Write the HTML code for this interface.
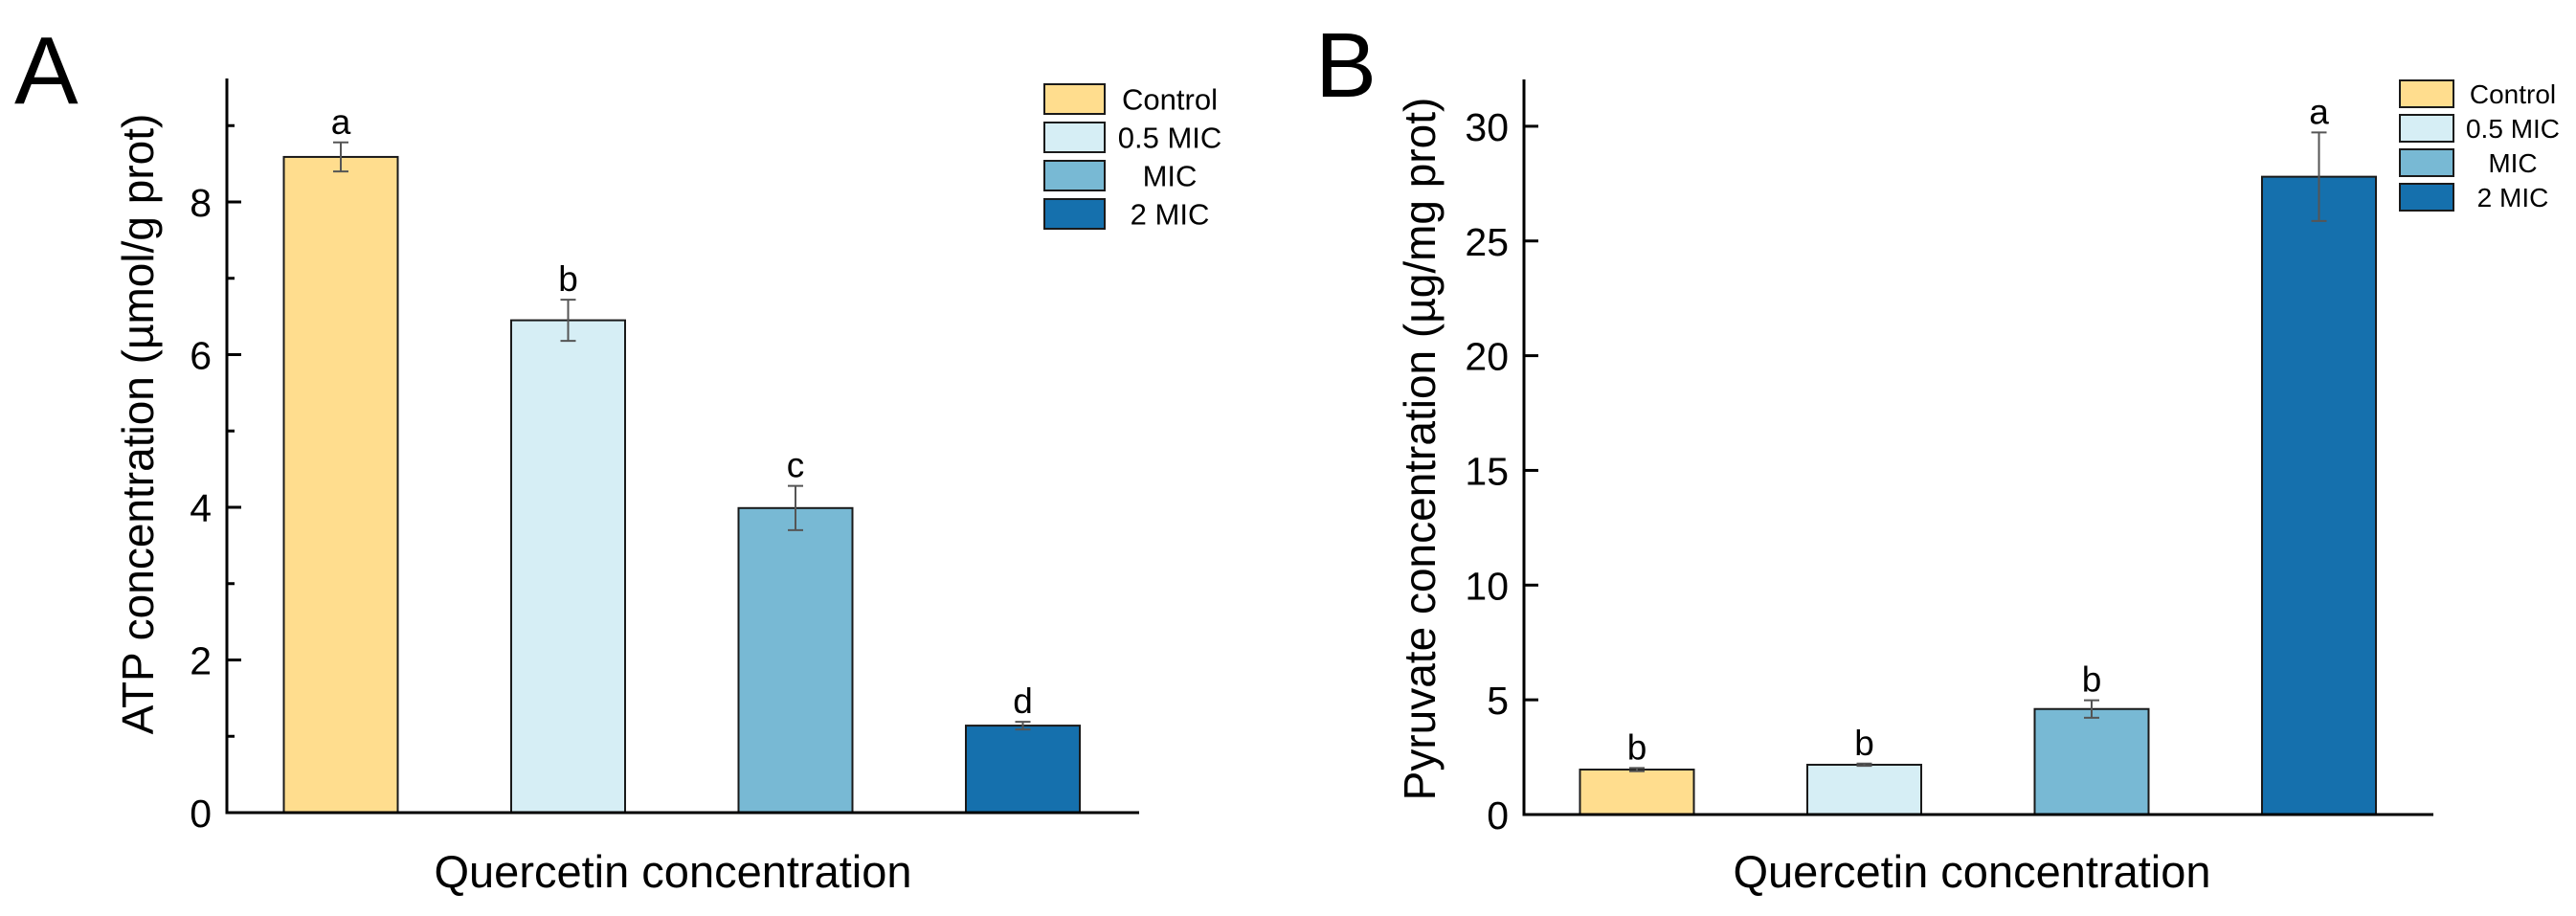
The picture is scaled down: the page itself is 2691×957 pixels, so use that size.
<!DOCTYPE html>
<html><head><meta charset="utf-8">
<style>
html,body{margin:0;padding:0;background:#fff;}
svg{display:block;font-family:"Liberation Sans",Arial,sans-serif;}
</style></head>
<body>
<svg id="fig" width="2691" height="957" viewBox="0 0 2691 957" xmlns="http://www.w3.org/2000/svg">
<text x="15" y="108" font-size="100">A</text>
<text x="1374" y="101" font-size="96">B</text>
<g id="chartA"></g>
<g id="chartB"></g>
</svg>
<script>
const categories = ["Control", "0.5 MIC", "MIC", "2 MIC"];
const colors = ["#FFDD8E", "#D6EEF5", "#78B9D4", "#1570AD"];
const atpValues = [8.59, 6.45, 3.99, 1.14];
const atpErrors = [0.19, 0.27, 0.29, 0.05];
const atpLetters = ["a", "b", "c", "d"];
const atpTicks = [0, 2, 4, 6, 8];
const atpMinorTicks = [1, 3, 5, 7, 9];
const pyrValues = [1.96, 2.17, 4.6, 27.8];
const pyrErrors = [0.07, 0.05, 0.38, 1.93];
const pyrLetters = ["b", "b", "b", "a"];
const pyrTicks = [0, 5, 10, 15, 20, 25, 30];

const NS = "http://www.w3.org/2000/svg";
function mk(parent, tag, attrs, text) {
  const e = document.createElementNS(NS, tag);
  for (const k in attrs) e.setAttribute(k, attrs[k]);
  if (text !== undefined) e.textContent = text;
  parent.appendChild(e);
  return e;
}

function drawChart(g, cfg) {
  const y = v => cfg.y0 - v * cfg.ppu;
  const x = i => cfg.firstCenter + i * cfg.pitch;
  cfg.values.forEach((v, i) => {
    const r = mk(g, "rect", {x: x(i) - cfg.bw / 2, y: y(v), width: cfg.bw, height: cfg.y0 - y(v), fill: colors[i], stroke: "#1a1a1a", "stroke-width": 2});
    
    
    const top = y(v + cfg.errors[i]), bot = y(v - cfg.errors[i]);
    const eb = mk(g, "path", {d: `M${x(i)},${top}V${bot}M${x(i) - 8},${top}H${x(i) + 8}M${x(i) - 8},${bot}H${x(i) + 8}`, stroke: "#555", "stroke-width": 2, fill: "none"});
    
    
    const t = mk(g, "text", {x: x(i), y: top - 9, "font-size": 37, "text-anchor": "middle"}, cfg.letters[i]);
    
    
  });
  const ax = mk(g, "path", {d: `M${cfg.ax},${cfg.top}V${cfg.y0}H${cfg.xEnd}`, stroke: "#000", "stroke-width": 3, fill: "none"});
  
  
  cfg.ticks.forEach(v => {
    const tk = mk(g, "line", {x1: cfg.ax, x2: cfg.ax + 15, y1: y(v), y2: y(v), stroke: "#000", "stroke-width": 3});
    
    
    const tl = mk(g, "text", {x: cfg.ax - 16, y: y(v) + 15, "font-size": 41, "text-anchor": "end"}, String(v));
    
    
  });
  (cfg.minor || []).forEach(v => {
    const tk = mk(g, "line", {x1: cfg.ax, x2: cfg.ax + 8, y1: y(v), y2: y(v), stroke: "#000", "stroke-width": 3});
    
    
  });
  const yl = mk(g, "text", {x: 0, y: 0, "font-size": 46, "text-anchor": "middle", transform: `translate(${cfg.ylx},${cfg.yly}) rotate(-90)`}, cfg.ylabel);
  
  
  const xl = mk(g, "text", {x: cfg.xlx, y: 927, "font-size": 47, "text-anchor": "middle"}, "Quercetin concentration");
  
  
  categories.forEach((c, i) => {
    const ly = cfg.legY + i * cfg.legPitch;
    const lb = mk(g, "rect", {x: cfg.legX, y: ly, width: cfg.legW, height: cfg.legH, fill: colors[i], stroke: "#1a1a1a", "stroke-width": 2});
    
    
    const lt = mk(g, "text", {x: cfg.legTX, y: ly + cfg.legH / 2 + cfg.legFS * 0.36, "font-size": cfg.legFS, "text-anchor": "middle"}, c);
    
    
  });
}

drawChart(document.getElementById("chartA"), {
  values: atpValues, errors: atpErrors, letters: atpLetters, ticks: atpTicks, minor: atpMinorTicks,
  y0: 849, ppu: 79.75, top: 82, ax: 237, xEnd: 1190, firstCenter: 356, pitch: 237.5, bw: 119,
  ylabel: "ATP concentration (µmol/g prot)", ylx: 160, yly: 443, xlx: 703,
  legX: 1091, legY: 88, legW: 63, legH: 31, legPitch: 40, legTX: 1222, legFS: 31
});
drawChart(document.getElementById("chartB"), {
  values: pyrValues, errors: pyrErrors, letters: pyrLetters, ticks: pyrTicks,
  y0: 851, ppu: 23.97, top: 83, ax: 1592, xEnd: 2542, firstCenter: 1710, pitch: 237.5, bw: 119,
  ylabel: "Pyruvate concentration (µg/mg prot)", ylx: 1499, yly: 469, xlx: 2060,
  legX: 2507, legY: 84, legW: 56, legH: 28, legPitch: 36, legTX: 2625, legFS: 28
});
</script>
</body></html>
